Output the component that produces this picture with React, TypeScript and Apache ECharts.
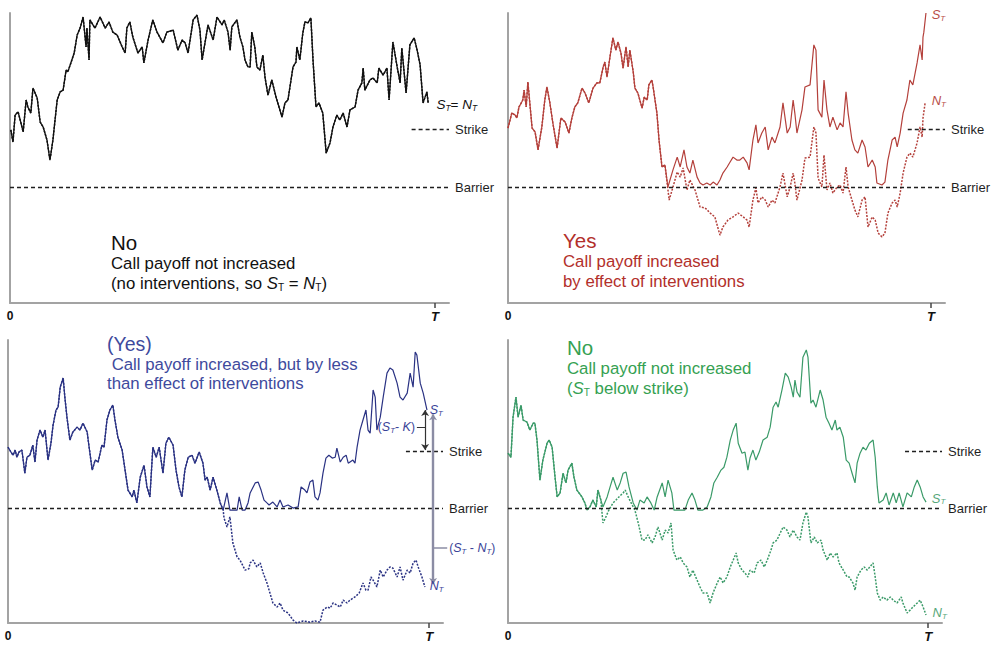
import { useEffect, useRef } from 'react';
import * as echarts from 'echarts';

const FONT = '"Liberation Sans", Arial, Helvetica, sans-serif';
const BARRIER = 40;
const STRIKE = 60;
const T_VALUE = 100;
const X_MAX = 103.3;
const STRIKE_FROM = 94.5;
const TICK_VALUES = [0, 100];

// Top-left: no interventions (S = N)
const tlPath: number[][] = [[0.2,59.7],[0.7,55.5],[1.2,64.8],[1.9,65.9],[2.4,63.1],[3.1,59],[3.8,70],[4.2,67.6],[4.9,65.5],[5.4,74.1],[6.4,70.7],[7.1,62.4],[7.8,60.7],[8.7,56.2],[9.4,49.3],[10.1,56.2],[11.1,70],[11.8,72.8],[12.5,73.4],[13.2,80.3],[13.6,79.7],[14.4,83.1],[15.1,86.2],[15.8,92.4],[16.5,94.8],[17.2,98.6],[17.9,88.3],[18.1,94.8],[18.6,83.8],[18.8,97.6],[20,94.8],[21.2,98.6],[22.4,94.8],[23.3,96.9],[24.2,93.4],[25.2,92.4],[26.4,88.3],[27.1,86.2],[27.5,94.8],[28.2,96.9],[28.9,91.7],[30.1,86.2],[31.1,88.3],[31.5,82.8],[32.5,90.7],[33.6,97.6],[34.6,93.4],[36,89.7],[36.9,93.4],[38.4,94.1],[39.5,87.2],[40.5,90.7],[41.2,89.7],[41.9,86.2],[43.1,97.6],[44,99.3],[44.7,94.1],[45.2,83.8],[46.6,95.9],[47.8,90.7],[48.7,98.6],[49.9,95.9],[50.4,97.6],[51.3,93.4],[51.8,87.2],[52.2,95.2],[53.4,97.6],[54.1,91.7],[54.8,88.3],[55.3,83.8],[56,81.4],[56.5,81.4],[56.9,93.4],[57.6,88.3],[58.1,81.4],[58.8,80.3],[59.5,85.5],[60,77.9],[60.7,71.7],[61.6,76.9],[62.6,71],[63.3,67.6],[64,64.1],[64.7,69],[65.4,70],[66.6,81.4],[67.3,83.1],[67.5,88.3],[68.2,83.8],[68.9,93.1],[69.4,96.9],[70.1,96.6],[70.8,98.3],[71.3,83.8],[72,67.6],[72.7,69],[73.6,65.5],[74.4,51.7],[75.3,55.2],[76,60.7],[76.9,64.8],[77.6,63.1],[78.4,65.5],[79.3,60.7],[80,66.6],[81.2,67.6],[81.9,73.4],[82.8,75.9],[83.1,81],[83.5,73.4],[84.7,76.9],[85.4,77.6],[86.4,75.9],[86.8,81],[87.8,78.6],[88.7,81],[89.2,70],[90.1,90],[91.1,81.4],[91.8,75.9],[92.2,87.9],[93.2,72.4],[94.1,89],[95.1,91.4],[95.8,87.2],[96.5,82.1],[97.2,69],[98.1,72.8],[98.4,69]];

// Top-right (red)
const trCommon: number[][] = [[0,60.3],[0.9,65.5],[1.7,64.8],[2.1,63.8],[2.6,67.6],[3.5,70],[3.8,73.4],[4.3,67.6],[4.7,76.2],[5.7,60.3],[6.4,59],[7.1,52.8],[8,60.7],[8.7,70],[9.2,74.5],[9.9,69],[10.6,62.1],[11.6,53.4],[12.5,63.8],[13.5,62.4],[14.4,58.6],[15.1,63.8],[15.8,67.6],[16.5,69],[17.5,74.1],[18.2,72.4],[19.1,69],[20.1,74.1],[21,75.9],[21.7,75.9],[22.5,81.4],[22.9,83.1],[23.4,77.9],[24.1,84.8],[24.8,91.4],[25.5,87.2],[26,90],[26.7,86.2],[27.2,81],[27.9,88.3],[28.4,81.4],[28.8,87.2],[29.6,79.7],[30,74.1],[30.7,72.4],[31.7,67.2],[32.2,71],[32.9,70],[33.3,75.2],[34,76.9],[34.3,74.5],[35.2,65.5],[35.7,56.2],[36.4,46.9],[37.1,47.6]];
const trSAfter: number[][] = [[37.8,40],[39,45.9],[40,50.3],[40.7,46.9],[41.6,52.8],[42.3,46.9],[43,44.8],[43.7,49.3],[44.7,43.4],[45.4,41.4],[46.1,40.7],[47,41.4],[47.8,40.7],[48.5,41.7],[49.4,40.7],[50.1,42.4],[50.8,44.8],[51.8,46.9],[52.5,48.6],[53.2,50.3],[54.1,49.3],[54.8,49.3],[55.6,50.3],[56.5,48.3],[57,45.9],[57.9,56.2],[58.6,61.4],[59.1,55.2],[60,58.6],[60.8,60.7],[61.5,52.8],[62.4,57.2],[63.1,55.2],[64.3,60.7],[65,69],[66,58.6],[66.7,60.7],[67.4,70],[67.8,65.5],[68.3,58.6],[69.5,66.6],[70.2,74.5],[71.4,75.2],[72.3,89],[72.8,87.2],[73.3,66.6],[74.2,64.1],[74.7,76.9],[75.4,66.6],[76.1,60.7],[76.8,64.1],[77.8,59.7],[78.5,62.1],[79.2,60.7],[79.9,72.8],[80.4,65.5],[81.3,56.2],[82,52.8],[82.7,51.7],[83.7,56.2],[84.4,53.8],[85.1,46.9],[86.1,49.3],[86.8,46.9],[87.2,41.4],[88.4,40.7],[89.1,41.7],[89.8,49.3],[90.8,56.2],[91.5,57.2],[92,53.8],[92.7,58.6],[93.4,65.5],[94.3,70],[95,76.9],[95.7,75.2],[96.7,82.8],[97.4,89],[97.9,83.8],[98.1,91.7],[98.3,93.4],[98.8,100]];
const trNAfter: number[][] = [[38.1,35.5],[39,40],[40,45.2],[40.7,43.4],[41.4,46.6],[42.3,39],[43,42.4],[44.2,39],[45.4,33.1],[46.6,32.8],[47.8,31],[48.9,29.7],[50.1,23.4],[50.8,26.2],[52,28.6],[53.2,29.7],[54.4,31],[55.6,29.7],[56.5,28.6],[57,26.2],[57.9,35.5],[58.6,39.7],[59.1,34.5],[60,36.6],[60.8,35.5],[61.5,33.1],[62.4,35.5],[63.1,34.5],[64.3,40],[65,44.8],[66,36.6],[66.7,40],[67.4,44.8],[67.8,41.4],[68.3,35.5],[69.5,42.4],[70.2,50],[71.4,50.3],[72.3,60.7],[72.8,58.6],[73.3,43.1],[74.2,40],[74.7,51],[75.4,39],[76.1,41.4],[76.8,37.9],[77.8,40],[78.5,40.7],[79.2,37.9],[79.9,46.9],[80.4,40],[81.3,35.5],[82,32.1],[82.7,29.7],[83.7,35.5],[84.4,36.6],[85.1,26.2],[86.1,29.7],[86.8,28.6],[87.5,24.1],[88.4,22.8],[89.1,24.1],[89.8,31],[90.8,34.5],[91.5,35.5],[92,33.1],[92.7,37.9],[93.4,44.8],[94.3,50.3],[95,51.7],[95.7,50.3],[96.7,55.2],[97.4,60.7],[97.9,57.2],[98.1,63.8],[98.6,69]];

// Bottom-left (blue)
const blCommon: number[][] = [[0,61.5],[0.7,59.8],[1.2,58.7],[1.7,60.5],[2.1,58],[2.6,59.8],[3.3,60.5],[4,52.4],[4.5,58],[5.2,58.7],[5.9,62.2],[6.4,56.3],[6.9,64],[7.6,67.5],[8.3,65],[8.8,67.5],[9.5,57],[10.2,62.9],[10.7,69.2],[11.4,74.5],[11.9,75.5],[12.4,82.5],[13.1,85.7],[13.5,79],[14,72],[14.7,64],[15.4,66.8],[16.4,68.5],[17.1,67.5],[17.8,69.9],[18.8,66.8],[19.2,62.2],[20,53.5],[20.7,57],[21.4,56.3],[22.3,62.2],[22.8,61.5],[23.5,71],[24.2,74.5],[24.9,76.2],[25.4,71],[26.1,65],[27.1,60.5],[27.8,53.5],[28.5,46.5],[29.5,44.1],[29.9,46.5],[30.6,42],[31.4,51],[32.3,55.2],[33,47.6],[33.7,44.1],[34.4,61.5],[35.2,58],[35.9,61.5],[36.8,52.4],[37.5,62.9],[38.2,65],[39.2,62.2],[39.9,53.5],[40.6,47.6],[41.3,44.1],[42,53.5],[42.8,58],[43.7,58.7],[44.4,55.9],[45.4,59.8],[46.3,55.9],[46.8,50],[47.3,51],[48,46.5],[48.7,51],[49.6,46.5],[50.4,42],[51.1,39.5]];
const blSAfter: number[][] = [[52,45.5],[52.7,39.5],[54.4,39.5],[54.9,44.1],[55.6,39.5],[56.3,39.5],[57,42],[57.5,45.5],[58.7,49],[59.4,49.3],[60.1,46.5],[60.8,43],[61.5,42],[62,41.3],[62.9,42.3],[63.9,40.6],[64.6,43],[65.3,40.6],[66.5,41.3],[67.7,40.2],[68.9,40.6],[69.6,47.6],[70.5,46.5],[71,45.5],[71.7,49.3],[72.4,50],[72.9,44.1],[73.6,43],[74.1,45.5],[74.8,52.4],[75.5,57.7],[76.2,58.7],[77,57.7],[77.7,58],[78.1,61.2],[78.9,56.3],[79.6,58],[80.3,58.7],[80.8,55.9],[81.9,57],[82.4,55.9],[82.9,61.5],[83.6,67.5],[84.3,71],[85,74.5],[85.5,67.5],[86,66.4],[86.7,81.5],[87.2,79],[87.6,67.5],[88.4,72],[89.1,79],[90,87.4],[90.7,89.2],[91.4,88.5],[92.4,83.9],[93.1,79],[93.8,78],[94.8,80.4],[95.5,87.4],[96.2,82.5],[96.7,94.8],[97.1,93.7],[97.9,83.9],[98.6,80.4],[99.5,74.5]];
const blNAfter: number[][] = [[51.3,36.7],[52,33.6],[52.7,37.1],[53.4,28],[54.4,23.1],[55.1,22],[56.3,18.5],[57.2,19],[57.5,21],[58.2,22],[59.1,19.6],[59.9,21],[60.6,17.5],[61.5,14],[62.2,10.5],[62.9,7],[63.9,5.6],[64.6,7],[65.3,4.5],[66.5,3.5],[67.7,1],[68.6,0],[70.1,0.7],[71.7,0.3],[72.9,0.7],[74.1,0.3],[74.8,4.5],[75.8,5.6],[76.5,5.2],[77.2,7],[78.1,6.3],[78.9,5.6],[79.6,8],[80.5,7],[81.2,8],[82.4,9.1],[83.4,10.5],[84.3,14],[85,11.5],[85.5,11.5],[86.2,16.1],[86.7,15],[87.6,12.6],[88.4,18.5],[89.1,16.1],[90,18.5],[90.7,19.6],[91.4,19.2],[92.4,16.1],[93.1,19.6],[93.8,15],[94.8,18.5],[95.5,17.5],[96.2,21],[96.9,22],[97.4,19.6],[98.3,16.1],[99,12.6]];

// Bottom-right (green)
const brCommon: number[][] = [[0,59.4],[0.7,58],[1.2,72],[1.9,79],[2.4,72],[3.1,76.2],[3.6,71],[4.5,70.3],[5.2,67.5],[6,69.9],[6.4,69.9],[6.9,64],[7.6,50],[8.3,57],[9.3,62.9],[9.8,64],[10.5,61.5],[11.2,51],[11.7,44.1],[12.4,45.5],[13.1,52.4],[13.8,49],[14.3,53.5],[15.2,55.9],[15.7,51],[16.4,46.5],[17.6,44.1],[18.3,42],[18.8,39.5],[19.5,40.6],[20.2,43],[21,40.6],[21.4,46.5],[22.1,43]];
const brSAfter: number[][] = [[22.6,40.6],[23.6,44.1],[24.3,47.6],[25,51],[26,46.5],[26.7,49],[27.4,52.4],[28.1,52.8],[28.8,47.6],[29.8,42],[30.7,39.5],[31.4,43],[32.4,42],[33.1,44.1],[34,42],[34.8,39.5],[35.5,44.1],[36.7,49],[37.4,44.1],[38.1,50],[39,45.5],[39.5,39.5],[40.5,39.5],[41.4,39.5],[42.1,39.5],[42.9,43],[43.8,45.5],[44.5,43],[45.2,39.5],[46.4,39.5],[47.4,40.6],[48.3,44.1],[49,49],[49.8,51],[50.7,53.5],[51.4,54.5],[52.1,58],[52.9,64],[53.6,67.5],[54.3,69.9],[54.8,62.9],[55.7,59.4],[56.4,59.8],[57.1,53.5],[57.6,57.7],[58.3,60.5],[59,57],[59.8,59.8],[60.7,64],[61.7,65],[62.4,68.5],[63.1,75.5],[63.8,77.3],[64.3,75.5],[65.2,81.5],[66,87.4],[66.7,86],[67.4,82.5],[67.9,79],[68.3,85],[68.8,80.8],[69.5,79],[70.2,93],[71,95.5],[71.4,93],[72.1,76.9],[72.6,78],[73.3,75.5],[74.3,81.5],[75,78],[75.7,72],[76.4,69.9],[77.1,67.5],[77.9,71],[78.3,67.5],[79,68.5],[79.8,65],[80.5,57],[81.2,55.9],[81.9,52.4],[82.6,49],[83.1,55.9],[83.8,59.4],[84.5,61.5],[85.2,60.5],[86,62.9],[86.9,64],[87.4,58],[87.9,47.6],[88.3,42],[89.3,43],[90,45.5],[90.7,41.3],[91.7,45.5],[92.4,42],[93.1,45.5],[94,40.6],[95,45.5],[96,44.1],[96.7,47.6],[97.4,50],[98.1,47.6],[98.8,44.1],[99.5,42.3]];
const brNAfter: number[][] = [[22.6,35],[23.3,37.1],[24,39.5],[25,42],[25.7,43],[26.4,44.1],[27.4,45.5],[27.9,46.5],[28.6,44.1],[29.5,41.5],[30.2,39.5],[31,35],[31.9,29],[32.6,29],[33.3,30.8],[34.3,28],[35,30.1],[35.7,33.6],[36.7,29],[37.4,32.5],[38.1,31.5],[38.8,35],[39.3,25.5],[40.2,22],[41,23.1],[41.7,21],[42.6,19.6],[43.3,16.1],[44,18.5],[45,15],[45.7,12.6],[46.4,10.5],[47.4,10.5],[48.1,7],[48.8,10.5],[49.8,14],[50.5,16.1],[51.2,14],[52.1,16.1],[52.9,19.6],[53.6,22],[54.3,24.5],[54.8,21],[55.7,18.5],[56.4,17.5],[57.1,16.1],[57.6,18.5],[58.6,17.5],[59.3,21],[60.2,22],[61,19.6],[61.7,22],[62.6,25.5],[63.1,28],[64,29],[64.8,31.5],[65.5,33.6],[66.4,32.5],[67.1,30.1],[67.9,32.5],[68.8,30.1],[69.5,29],[70.2,35],[71,38.8],[71.4,37.1],[72.1,28],[72.9,30.1],[73.6,28],[74.5,29],[75,25.5],[76,22],[76.7,24.5],[77.4,23.1],[78.3,24.5],[78.8,21],[79.8,18.5],[80.7,16.1],[81.2,16.1],[82.1,14],[82.6,11.5],[83.1,16.1],[84,18.5],[84.8,19.6],[85.5,18.5],[86.9,21],[87.4,16.1],[87.9,10.5],[88.6,8],[89.3,9.1],[90.2,8],[91,9.1],[91.7,8],[92.6,7],[93.6,9.1],[94,7],[95,3.5],[95.7,4.5],[96.4,5.6],[97.4,7],[98.1,8],[98.8,5.6],[99.5,2.8]];

// Annotation arrows in bottom-left panel: [x, yTop, yBottom]
const arrowK = [99.05, 74.5, 60.5];
const arrowN = [100.95, 73, 13.6];

const COL = {
  black: '#111111',
  redLine: '#b4403b',
  redText: '#b2302b',
  redTag: '#b9504a',
  blueLine: '#2a3283',
  blueText: '#3e4a9d',
  blueTag: '#3a4498',
  greenLine: '#3a9a68',
  greenText: '#35a152',
  greenTag: '#58a87b',
  axis: '#a3a3a3',
  arrow: '#8b8ca4',
};

const grids = [
  { left: 10, top: 13, width: 439, height: 290 },
  { left: 508, top: 13, width: 437, height: 290 },
  { left: 8, top: 340, width: 435, height: 283 },
  { left: 508, top: 340, width: 434, height: 283 },
];
const yMaxes = [100, 100, 99, 99];

function labelRich(color: string, size: number) {
  return {
    i: { fontStyle: 'italic', fontSize: size, color, opacity: 1, fontFamily: FONT },
    s: { fontStyle: 'italic', fontSize: size * 0.62, color, opacity: 1, fontFamily: FONT, padding: [size * 0.55, 0, 0, 0] },
    n: { fontSize: size, color, opacity: 1, fontFamily: FONT },
  };
}
function graphicRich(color: string, size: number) {
  return {
    i: { fontStyle: 'italic', fontSize: size, fill: color, fontFamily: FONT },
    s: { fontSize: size * 0.6, fill: color, fontFamily: FONT, padding: [size * 0.55, 0, 0, 0] },
  };
}

function lineSeries(i: number, data: number[][], color: string, width: number, dotted: boolean) {
  return {
    type: 'line', xAxisIndex: i, yAxisIndex: i, data,
    showSymbol: false, symbol: 'none', silent: true, clip: false,
    lineStyle: { color, width, type: dotted ? [2, 1.4] : 'solid' },
    z: dotted ? 4 : 3,
  };
}
function levelLine(i: number, y: number, x0: number, text: string) {
  return {
    type: 'lines', coordinateSystem: 'cartesian2d', xAxisIndex: i, yAxisIndex: i, silent: true, clip: false,
    data: [{ coords: [[x0, y], [X_MAX, y]] }],
    symbol: ['none', 'none'],
    lineStyle: { color: '#1f1f1f', width: 1.3, type: [4, 3], opacity: 1, curveness: 0 },
    label: { show: true, position: 'end', formatter: text, color: '#1f1f1f', opacity: 1, fontSize: 13, fontFamily: FONT, distance: 6 },
    z: 5,
  };
}
function tag(i: number, x: number, y: number, text: string, color: string, size: number) {
  return {
    type: 'scatter', xAxisIndex: i, yAxisIndex: i, silent: true, clip: false,
    symbolSize: 1, itemStyle: { color: 'rgba(0,0,0,0)' },
    data: [{ value: [x, y] }],
    label: { show: true, position: 'right', distance: 1, opacity: 1, formatter: text, color, rich: labelRich(color, size) },
    z: 6,
  };
}
function segment(i: number, from: number[], to: number[], color: string, width: number, arrows: boolean, label?: string) {
  return {
    type: 'lines', coordinateSystem: 'cartesian2d', xAxisIndex: i, yAxisIndex: i, silent: true, clip: false,
    data: [{ coords: [from, to] }],
    symbol: arrows ? ['arrow', 'arrow'] : ['none', 'none'],
    symbolSize: arrows ? 6 : 0,
    lineStyle: { color, width, opacity: 1, curveness: 0 },
    label: label
      ? { show: true, position: 'end', distance: 2, opacity: 1, formatter: label, color: COL.blueTag, rich: labelRich(COL.blueTag, 12.5) }
      : { show: false },
    z: 6,
  };
}

function titleBlock(x: number, y: number, color: string, title: string, l2: string, l3: string, titleSize: number) {
  const base = { fontFamily: FONT, fill: color, align: 'left', verticalAlign: 'middle' };
  return [
    { type: 'text', silent: true, style: { ...base, x, y, text: title, fontSize: titleSize } },
    { type: 'text', silent: true, style: { ...base, x, y: y + 21, text: l2, fontSize: 16.8 } },
    { type: 'text', silent: true, style: { ...base, x, y: y + 41, text: l3, fontSize: 16.8, rich: graphicRich(color, 16.8) } },
  ];
}

function buildOption() {
  const xAxis = grids.map((_, i) => ({
    gridIndex: i, type: 'value', min: 0, max: X_MAX,
    splitLine: { show: false },
    axisLine: { show: true, onZero: false, lineStyle: { color: COL.axis, width: 2 } },
    axisTick: { show: true, customValues: [T_VALUE], length: 5, lineStyle: { color: '#444', width: 1.5 } },
    axisLabel: {
      show: true, customValues: TICK_VALUES, margin: 7,
      formatter: (v: number) => (v === 0 ? '{z|0}' : '{t|T}'),
      rich: {
        z: { fontWeight: 'bold', fontSize: 12, color: '#111', fontFamily: FONT },
        t: { fontWeight: 'bold', fontStyle: 'italic', fontSize: 13, color: '#111', fontFamily: FONT },
      },
    },
  }));
  const yAxis = grids.map((_, i) => ({
    gridIndex: i, type: 'value', min: 0, max: yMaxes[i],
    splitLine: { show: false },
    axisLine: { show: true, lineStyle: { color: COL.axis, width: 2 } },
    axisTick: { show: false }, axisLabel: { show: false },
  }));

  const series: any[] = [
    // top-left
    lineSeries(0, tlPath, COL.black, 1.3, false),
    lineSeries(0, tlPath, COL.black, 1.5, true),
    levelLine(0, BARRIER, 0, 'Barrier'),
    levelLine(0, STRIKE, STRIKE_FROM, 'Strike'),
    tag(0, 100, 68.6, '{i|S}{s|T}{n|= }{i|N}{s|T}', COL.black, 13.5),
    // top-right
    lineSeries(1, trCommon.concat(trSAfter), COL.redLine, 1.2, false),
    lineSeries(1, trCommon.concat(trNAfter), COL.redLine, 1.5, true),
    levelLine(1, BARRIER, 0, 'Barrier'),
    levelLine(1, STRIKE, STRIKE_FROM, 'Strike'),
    tag(1, 99.8, 99.5, '{i|S}{s|T}', COL.redTag, 13),
    tag(1, 99.8, 69.7, '{i|N}{s|T}', COL.redTag, 13),
    // bottom-left
    lineSeries(2, blCommon.concat(blSAfter), COL.blueLine, 1.2, false),
    lineSeries(2, blCommon.concat(blNAfter), COL.blueLine, 1.5, true),
    levelLine(2, BARRIER, 0, 'Barrier'),
    levelLine(2, STRIKE, STRIKE_FROM, 'Strike'),
    segment(2, [arrowK[0], arrowK[1]], [arrowK[0], arrowK[2]], '#333', 1.2, true),
    segment(2, [arrowN[0], arrowN[1]], [arrowN[0], arrowN[2]], COL.arrow, 2.4, true),
    segment(2, [arrowK[0], 68.5], [97.1, 68.5], '#333', 1, false, '({i|S}{s|T}{n|- }{i|K})'),
    segment(2, [arrowN[0], 26.2], [104.3, 26.2], COL.arrow, 1.5, false, '({i|S}{s|T}{n| - }{i|N}{s|T})'),
    tag(2, 99.8, 74.5, '{i|S}{s|T}', COL.blueTag, 12.5),
    tag(2, 99.8, 12.9, '{i|N}{s|T}', COL.blueTag, 12.5),
    // bottom-right
    lineSeries(3, brCommon.concat(brSAfter), COL.greenLine, 1.2, false),
    lineSeries(3, brCommon.concat(brNAfter), COL.greenLine, 1.5, true),
    levelLine(3, BARRIER, 0, 'Barrier'),
    levelLine(3, STRIKE, STRIKE_FROM, 'Strike'),
    tag(3, 100.5, 43.7, '{i|S}{s|T}', COL.greenTag, 13),
    tag(3, 100.7, 3.5, '{i|N}{s|T}', COL.greenTag, 13),
  ];

  const graphic = [
    ...titleBlock(111, 242, COL.black, 'No', 'Call payoff not increased', '(no interventions, so {i|S}{s|T} = {i|N}{s|T})', 20.5),
    ...titleBlock(563, 240, COL.redText, 'Yes', 'Call payoff increased', 'by effect of interventions', 20.5),
    ...titleBlock(107, 344, COL.blueText, '(Yes)', ' Call payoff increased, but by less', 'than effect of interventions', 19.5).map((g: any, k: number) =>
      k === 0 ? g : { ...g, style: { ...g.style, y: k === 1 ? 364 : 383 } }),
    ...titleBlock(567, 347, COL.greenText, 'No', 'Call payoff not increased', '({i|S}{s|T} below strike)', 20.5),
  ];

  return {
    animation: false,
    backgroundColor: '#ffffff',
    textStyle: { fontFamily: FONT },
    grid: grids.map((g) => ({ ...g, containLabel: false })),
    xAxis, yAxis, series, graphic,
  };
}

export default function App() {
  const ref = useRef<HTMLDivElement>(null);
  useEffect(() => {
    if (!ref.current) return;
    const chart = echarts.init(ref.current, null, { renderer: 'svg' });
    chart.setOption(buildOption() as any);
    return () => chart.dispose();
  }, []);
  return (
    <div
      ref={ref}
      style={{ position: 'fixed', left: 0, top: 0, width: 991, height: 647, background: '#fff' }}
    />
  );
}
